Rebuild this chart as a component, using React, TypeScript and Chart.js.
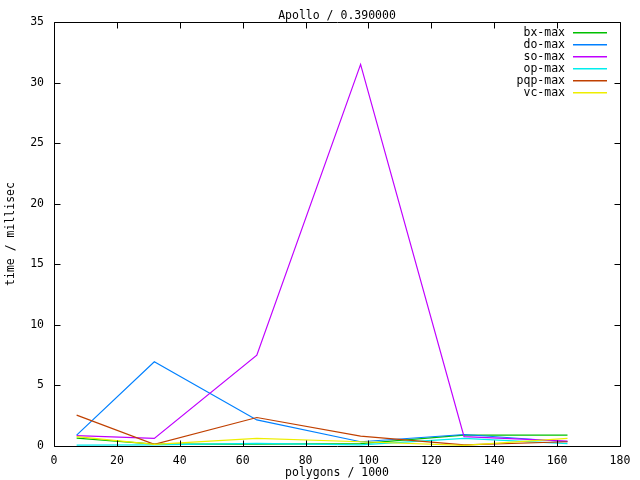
import React, { useEffect, useRef } from "react";
import { Chart, registerables } from "chart.js";

Chart.register(...registerables);

const titleText = "Apollo / 0.390000";
const xTitle = "polygons / 1000";
const yTitle = "time / millisec";

const polygons = [7.2, 31.9, 64.5, 97.5, 130.4, 163.3];
const seriesNames = ["bx-max", "do-max", "so-max", "op-max", "pqp-max", "vc-max"];
const seriesColors = ["#00c000", "#0080ff", "#c000ff", "#00eeee", "#c04000", "#eeee00"];
const bxMax = [0.65, 0.15, 0.15, 0.2, 0.9, 0.9];
const doMax = [0.9, 6.95, 2.15, 0.35, 0.95, 0.35];
const soMax = [0.85, 0.63, 7.5, 31.5, 0.78, 0.4];
const opMax = [0.08, 0.1, 0.22, 0.1, 0.63, 0.2];
const pqpMax = [2.55, 0.13, 2.35, 0.82, 0.1, 0.35];
const vcMax = [0.77, 0.13, 0.63, 0.35, 0.05, 0.63];
const seriesValues = [bxMax, doMax, soMax, opMax, pqpMax, vcMax];

const FONT = "'DejaVu Sans Mono', monospace";
const FSIZE = 11.5;

const gnuplotDecor = {
  id: "gnuplotDecor",
  afterDraw(chart: any) {
    const { ctx, chartArea } = chart;
    const { left, right, top, bottom } = chartArea;
    const xs = chart.scales.x;
    const ys = chart.scales.y;
    ctx.save();
    ctx.strokeStyle = "#000";
    ctx.lineWidth = 1;
    const L = Math.round(left) + 0.5;
    const R = Math.round(right) + 0.5;
    const T = Math.round(top) + 0.5;
    const B = Math.round(bottom) + 0.5;
    ctx.beginPath();
    ctx.rect(L, T, R - L, B - T);
    const tl = 6;
    xs.ticks.forEach((t: any) => {
      const px = Math.round(xs.getPixelForValue(t.value)) + 0.5;
      ctx.moveTo(px, B);
      ctx.lineTo(px, B - tl);
      ctx.moveTo(px, T);
      ctx.lineTo(px, T + tl);
    });
    ys.ticks.forEach((t: any) => {
      const py = Math.round(ys.getPixelForValue(t.value)) + 0.5;
      ctx.moveTo(L, py);
      ctx.lineTo(L + tl, py);
      ctx.moveTo(R, py);
      ctx.lineTo(R - tl, py);
    });
    ctx.stroke();

    ctx.fillStyle = "#000";
    ctx.font = `${FSIZE}px ${FONT}`;
    ctx.textAlign = "center";
    ctx.textBaseline = "middle";
    ctx.fillText(titleText, (left + right) / 2, 16);

    // legend
    ctx.textAlign = "right";
    chart.data.datasets.forEach((ds: any, i: number) => {
      const y = 33 + i * 12;
      ctx.fillStyle = "#000";
      ctx.fillText(ds.label, 565, y);
      ctx.fillStyle = seriesColors[i];
      ctx.fillRect(573, Math.round(y) - 1, 34, 1.5);
    });
    ctx.restore();
  },
};

export default function App() {
  const ref = useRef<HTMLCanvasElement>(null);
  useEffect(() => {
    document.body.style.margin = "0";
    const datasets = seriesNames.map((name, i) => ({
      label: name,
      data: polygons.map((x, j) => ({ x, y: seriesValues[i][j] })),
      borderColor: seriesColors[i],
      backgroundColor: seriesColors[i],
      borderWidth: 1.2,
      pointRadius: 0,
      tension: 0,
      fill: false,
      order: seriesNames.length - i,
    }));
    const chart = new Chart(ref.current!, {
      type: "line",
      data: { datasets },
      plugins: [gnuplotDecor],
      options: {
        responsive: false,
        animation: false,
        layout: { padding: { top: 22, right: 20, left: 0, bottom: 0 } },
        plugins: { legend: { display: false }, tooltip: { enabled: false }, title: { display: false } },
        scales: {
          x: {
            type: "linear",
            min: 0,
            max: 180,
            grid: { display: false, drawTicks: false },
            border: { display: false },
            ticks: {
              stepSize: 20,
              autoSkip: false,
              maxRotation: 0,
              padding: 8,
              color: "#000",
              font: { family: FONT, size: FSIZE },
            },
            title: {
              display: true,
              text: xTitle,
              color: "#000",
              font: { family: FONT, size: FSIZE },
              padding: { top: 0, bottom: 0 },
            },
            afterFit: (s: any) => {
              s.height = 34;
            },
          },
          y: {
            min: 0,
            max: 35,
            grid: { display: false, drawTicks: false },
            border: { display: false },
            ticks: {
              stepSize: 5,
              autoSkip: false,
              padding: 10,
              color: "#000",
              font: { family: FONT, size: FSIZE },
            },
            title: {
              display: true,
              text: yTitle,
              color: "#000",
              font: { family: FONT, size: FSIZE },
              padding: { top: 4.5, bottom: 0 },
            },
            afterFit: (s: any) => {
              s.width = 54;
            },
          },
        },
      },
    });
    return () => chart.destroy();
  }, []);
  return (
    <div style={{ position: "absolute", left: 0, top: 0 }}>
      <canvas ref={ref} width={640} height={480} style={{ display: "block", width: 640, height: 480 }} />
    </div>
  );
}
